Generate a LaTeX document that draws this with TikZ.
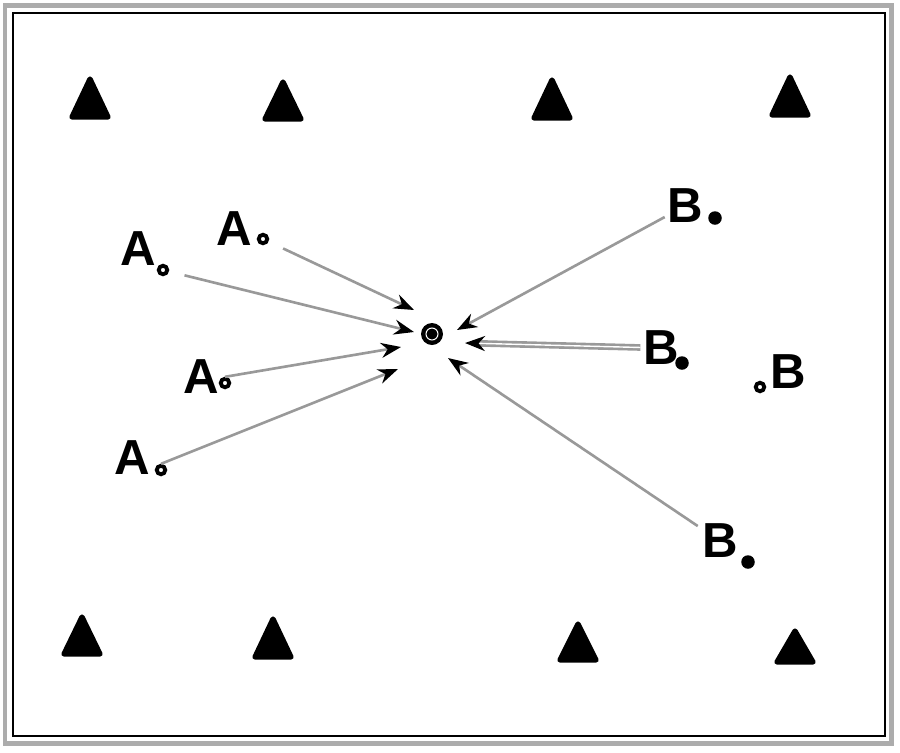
\documentclass[tikz,border=0pt]{standalone}
\usepackage{fontspec}
\setsansfont{Liberation Sans}
\usetikzlibrary{arrows.meta}
\tikzset{
  letter/.style={font=\sffamily\bfseries\fontsize{28}{28}\selectfont,inner sep=0pt},
  opendot/.style={circle,draw=black,line width=2.2pt,fill=white,minimum size=0.17cm,inner sep=0pt},
  fulldot/.style={circle,fill=black,minimum size=0.27cm,inner sep=0pt},
  marker/.style={fill=black,draw=black,line width=3pt,line join=round},
  pull/.style={draw=gray!80,line width=1.5pt,-{Stealth[black,length=4mm,width=3mm]}},
  pulldouble/.style={pull,double=white,double distance=0.8pt},
}
\begin{document}
\begin{tikzpicture}[x=0.02cm,y=-0.02cm]
  \useasboundingbox (0,0) rectangle (900,752);
  % frame
  \draw[gray!65,line width=0.1cm] (5,5) rectangle (891,743);
  \draw[black,line width=0.8pt] (13,13) rectangle (885,736);
  % markers
  \foreach \cx/\top/\bot in {90/75/120, 283/78/122, 552/76/121, 790/73/118,
                            82/613/657, 273/615/660, 578/620/663, 795/627/665}
    \draw[marker] (\cx,\top+4) -- (\cx+18,\bot-3) -- (\cx-18,\bot-3) -- cycle;
  % point A
  \node[letter] (a1) at (138,249) {A};
  \node[opendot] (a1d) at (163,270) {};
  \node[letter] (a2) at (234,229) {A};
  \node[opendot] (a2d) at (263,239) {};
  \node[letter] (a3) at (201,377) {A};
  \node[opendot] (a3d) at (225,383) {};
  \node[letter] (a4) at (132,458) {A};
  \node[opendot] (a4d) at (161,470) {};
  % point B
  \node[letter] (b1) at (685,206) {B};
  \node[fulldot] (b1d) at (715,218) {};
  \node[letter] (b2) at (661,348) {B};
  \node[fulldot] (b2d) at (682,363) {};
  \node[letter] (b3) at (788,372) {B};
  \node[opendot] (b3d) at (760,387) {};
  \node[letter] (b4) at (720,541) {B};
  \node[fulldot] (b4d) at (748,562) {};
  % centre
  \node[circle,fill=black,minimum size=0.44cm,inner sep=0pt] (c) at (432,334) {};
  \draw[white,line width=0.6pt] (c.center) circle[radius=6];
  \coordinate (t1) at (414,310);
  \coordinate (t2) at (414,332);
  \coordinate (t3) at (401,347);
  \coordinate (t4) at (398,369);
  \coordinate (t5) at (457,330);
  \coordinate (t6) at (465,343);
  \coordinate (t7) at (448,358);
  % arrows
  \draw[pull,shorten <=0.32cm] (a2d) -- (t1);
  \draw[pull,shorten <=0.32cm] (a1d) -- (t2);
  \draw[pull] (a3d.north) -- (t3);
  \draw[pull] (a4d.north) -- (t4);
  \draw[pull,shorten <=0.05cm] (b1) -- (t5);
  \draw[pulldouble,shorten <=0.05cm] (b2) -- (t6);
  \draw[pull,shorten <=0.1cm] (b4) -- (t7);
\end{tikzpicture}
\end{document}
